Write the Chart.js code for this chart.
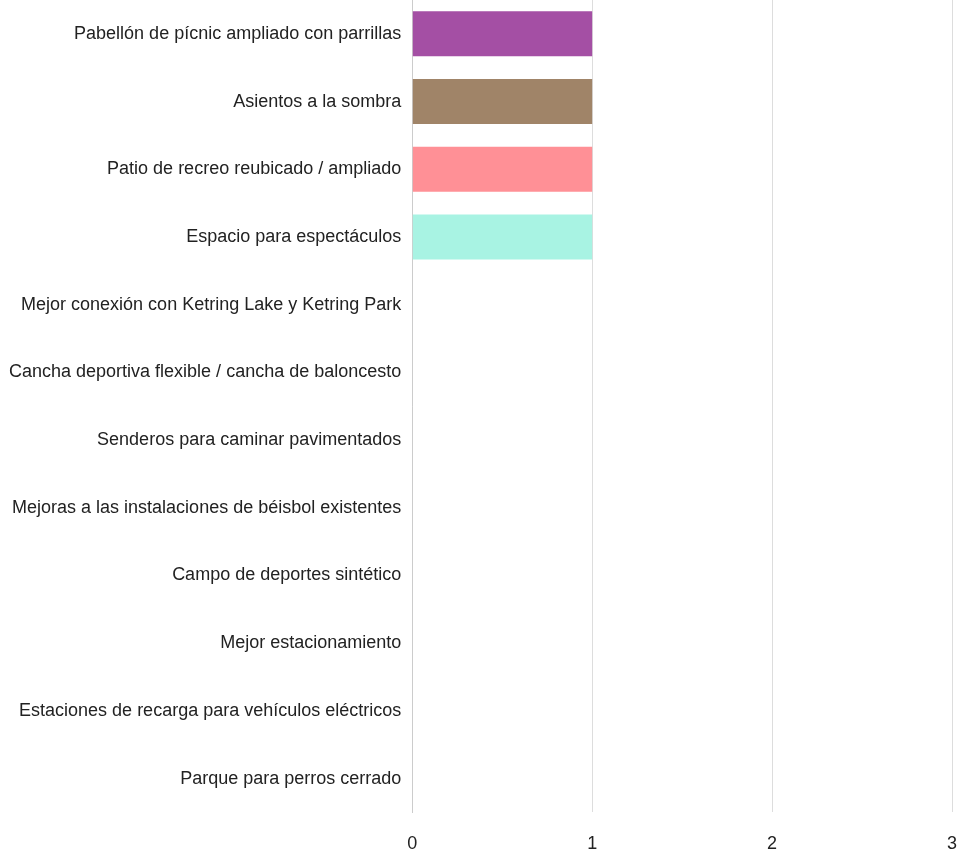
<!DOCTYPE html>
<html>
<head>
<meta charset="utf-8">
<script src="https://cdn.jsdelivr.net/npm/chart.js@4"></script>
<style>
  html, body { margin: 0; padding: 0; background: #fff; overflow: hidden; }
  canvas { display: block; }
</style>
</head>
<body>
<canvas id="myBar" width="960" height="857"></canvas>
<script>
  const categories = [
    'Pabellón de pícnic ampliado con parrillas',
    'Asientos a la sombra',
    'Patio de recreo reubicado / ampliado',
    'Espacio para espectáculos',
    'Mejor conexión con Ketring Lake y Ketring Park',
    'Cancha deportiva flexible / cancha de baloncesto',
    'Senderos para caminar pavimentados',
    'Mejoras a las instalaciones de béisbol existentes',
    'Campo de deportes sintético',
    'Mejor estacionamiento',
    'Estaciones de recarga para vehículos eléctricos',
    'Parque para perros cerrado'
  ];
  const votes = [1, 1, 1, 1, 0, 0, 0, 0, 0, 0, 0, 0];
  const barColors = [
    '#A44FA4', '#A08468', '#FF9096', '#A8F3E3',
    '#5B9BD5', '#ED7D31', '#70AD47', '#FFC000',
    '#4472C4', '#264478', '#9E480E', '#636363'
  ];
  const xTicks = [0, 1, 2, 3];

  const labelFont = { family: '"Liberation Sans", Arial, sans-serif', size: 18 };

  const ctx = document.getElementById('myBar');

  const myBar = new Chart(ctx, {
    type: 'bar',
    data: {
      labels: categories,
      datasets: [
        {
          data: votes,
          backgroundColor: barColors,
          categoryPercentage: 1,
          barPercentage: 0.665,
          borderWidth: 0,
        }
      ]
    },
    options: {
      indexAxis: 'y',
      maintainAspectRatio: false,
      responsive: false,
      animation: false,
      layout: {
        padding: { top: 0, right: 8, bottom: -19, left: -2 }
      },
      plugins: {
        legend: { display: false },
        tooltip: { enabled: false }
      },
      scales: {
        x: {
          min: 0,
          max: 3,
          afterBuildTicks: (axis) => { axis.ticks = xTicks.map(v => ({ value: v })); },
          afterFit: (s) => { s.paddingLeft = 0; s.paddingRight = 0; },
          grid: {
            color: '#dddddd',
            drawTicks: false,
          },
          border: { display: false },
          ticks: {
            padding: 21,
            color: '#222',
            font: labelFont
          }
        },
        y: {
          afterFit: (s) => { s.paddingTop = 0; s.paddingBottom = 0; },
          grid: { display: false, drawTicks: false },
          border: { display: true, color: '#cccccc', width: 1 },
          ticks: {
            padding: 11,
            color: '#222',
            font: labelFont
          }
        }
      }
    }
  });
</script>
</body>
</html>
